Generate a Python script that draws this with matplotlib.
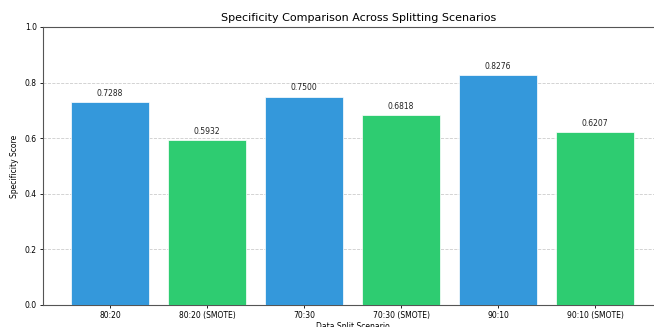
import matplotlib
matplotlib.use("Agg")
import matplotlib.pyplot as plt

categories = ["80:20", "80:20 (SMOTE)", "70:30", "70:30 (SMOTE)", "90:10", "90:10 (SMOTE)"]
specificity = [0.7288, 0.5932, 0.7500, 0.6818, 0.8276, 0.6207]
colors = ["#3498db", "#2ecc71", "#3498db", "#2ecc71", "#3498db", "#2ecc71"]

fig = plt.figure(figsize=(6.54, 3.27), dpi=100)
ax = fig.add_axes([43/654, 1-305/327, (662-43)/654, (305-27)/327])

bars = ax.bar(categories, specificity, color=colors, width=0.8, edgecolor="white", linewidth=0.5, zorder=3)
for b, v in zip(bars, specificity):
    ax.text(b.get_x() + b.get_width()/2, v + 0.015, f"{v:.4f}", ha="center", va="bottom", fontsize=5.5, color="#222222")

ax.set_ylim(0, 1.0)
ax.set_yticks([0.0, 0.2, 0.4, 0.6, 0.8, 1.0])
ax.grid(axis="y", linestyle="--", color="#cccccc", linewidth=0.6, zorder=0)
ax.set_title("Specificity Comparison Across Splitting Scenarios", fontsize=8, pad=4, x=0.51)
ax.set_ylabel("Specificity Score", fontsize=5.5, labelpad=4)
ax.set_xlabel("Data Split Scenario", fontsize=5.5, labelpad=1)
ax.tick_params(labelsize=5.5, length=2.5, width=0.6, pad=2)
for s in ax.spines.values():
    s.set_color("#555555")
    s.set_linewidth(0.8)
ax.spines["right"].set_visible(False)

fig.savefig("out.png", dpi=100)
